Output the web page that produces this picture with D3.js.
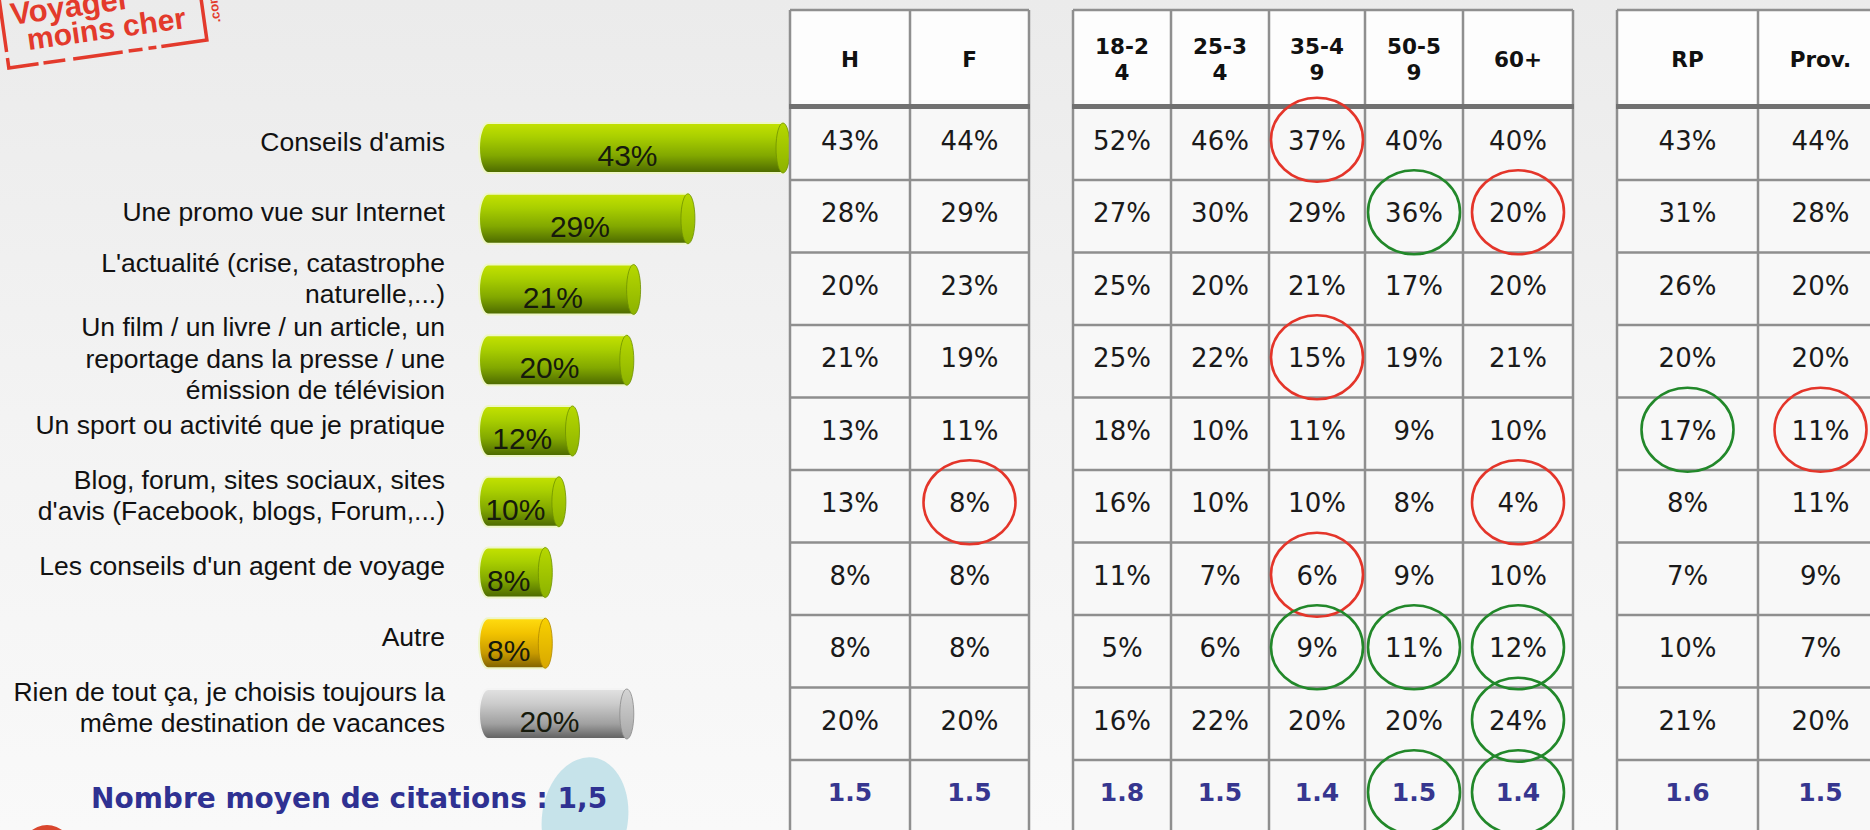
<!DOCTYPE html>
<html>
<head>
<meta charset="utf-8">
<script src="https://cdn.jsdelivr.net/npm/d3@7"></script>
<style>
  body { margin: 0; background: #f2f2f2; }
  svg { display: block; }
</style>
</head>
<body>
<svg id="chart" width="1870" height="830"></svg>
<script>
// ---- data ----
const categories = [
    "Conseils d'amis",
    "Une promo vue sur Internet",
    "L'actualité (crise, catastrophe\nnaturelle,...)",
    "Un film / un livre / un article, un\nreportage dans la presse / une\némission de télévision",
    "Un sport ou activité que je pratique",
    "Blog, forum, sites sociaux, sites\nd'avis (Facebook, blogs, Forum,...)",
    "Les conseils d'un agent de voyage",
    "Autre",
    "Rien de tout ça, je choisis toujours la\nmême destination de vacances"
]
const totals = [43, 29, 21, 20, 12, 10, 8, 8, 20]
const barKinds = ["main", "main", "main", "main", "main", "main", "main", "other", "none"]

const columns = ["H", "F", "18-24", "25-34", "35-49", "50-59", "60+", "RP", "Prov."]
const headerLines = [["H"], ["F"], ["18-2", "4"], ["25-3", "4"], ["35-4", "9"], ["50-5", "9"], ["60+"], ["RP"], ["Prov."]]
const tables = [["H", "F"], ["18-24", "25-34", "35-49", "50-59", "60+"], ["RP", "Prov."]]

const colH = [43, 28, 20, 21, 13, 13, 8, 8, 20]
const colF = [44, 29, 23, 19, 11, 8, 8, 8, 20]
const col1824 = [52, 27, 25, 25, 18, 16, 11, 5, 16]
const col2534 = [46, 30, 20, 22, 10, 10, 7, 6, 22]
const col3549 = [37, 29, 21, 15, 11, 10, 6, 9, 20]
const col5059 = [40, 36, 17, 19, 9, 8, 9, 11, 20]
const col60 = [40, 20, 20, 21, 10, 4, 10, 12, 24]
const colRP = [43, 31, 26, 20, 17, 8, 7, 10, 21]
const colProv = [44, 28, 20, 20, 11, 11, 9, 7, 20]
const colValues = [colH, colF, col1824, col2534, col3549, col5059, col60, colRP, colProv]
const averages = [1.5, 1.5, 1.8, 1.5, 1.4, 1.5, 1.4, 1.6, 1.5]

// circled cells: row index (9 = average row), column, low/high
const highlights = [
    { row: 0, col: "35-49", kind: "low" },
    { row: 1, col: "50-59", kind: "high" },
    { row: 1, col: "60+", kind: "low" },
    { row: 3, col: "35-49", kind: "low" },
    { row: 4, col: "RP", kind: "high" },
    { row: 4, col: "Prov.", kind: "low" },
    { row: 5, col: "F", kind: "low" },
    { row: 5, col: "60+", kind: "low" },
    { row: 6, col: "35-49", kind: "low" },
    { row: 7, col: "35-49", kind: "high" },
    { row: 7, col: "50-59", kind: "high" },
    { row: 7, col: "60+", kind: "high" },
    { row: 8, col: "60+", kind: "high" },
    { row: 9, col: "50-59", kind: "high" },
    { row: 9, col: "60+", kind: "high" }
]
const averageLabel = "Nombre moyen de citations : 1,5"

// ---- layout ----
width = 1870
height = 830
const tableBoxes = [
    { x0: 790, widths: [120, 119] },
    { x0: 1073, widths: [98, 98, 96, 98, 110] },
    { x0: 1617, widths: [141, 125] }
]
const headerTop = 10, headerBottom = 105
const labelFont = "'Liberation Sans', Arial, sans-serif"
const tableFont = "'DejaVu Sans', Verdana, sans-serif"

const svg = d3.select("#chart")
const defs = svg.append("defs")

function linear(id, stops) {
    const g = defs.append("linearGradient").attr("id", id)
        .attr("x1", 0).attr("y1", 0).attr("x2", 0).attr("y2", 1)
    stops.forEach(([o, c]) => g.append("stop").attr("offset", o).attr("stop-color", c))
}
linear("bg", [[0, "#ebebeb"], [0.5, "#f3f3f3"], [1, "#f9f9f9"]])
linear("g-main", [[0, "#c4e200"], [0.28, "#a9cf00"], [0.65, "#82a800"], [1, "#4b6800"]])
linear("g-other", [[0, "#ffdc10"], [0.3, "#f2c300"], [0.7, "#c79a00"], [1, "#7e6000"]])
linear("g-none", [[0, "#e2e2e2"], [0.3, "#cbcbcb"], [0.7, "#a0a0a0"], [1, "#5e5e5e"]])
linear("c-main", [[0, "#b6d800"], [1, "#8cb200"]])
linear("c-other", [[0, "#f8d000"], [1, "#d8a800"]])
linear("c-none", [[0, "#d4d4d4"], [1, "#a8a8a8"]])

svg.append("rect").attr("width", width).attr("height", height).attr("fill", "url(#bg)")

// ---- logo ----
const logo = svg.append("g").attr("transform", "translate(8,62) rotate(-8)")
    .attr("fill", "#e33a2c").attr("font-family", "'Liberation Sans', Arial, sans-serif").attr("font-weight", "bold")
logo.append("text").attr("x", 9).attr("y", -36).attr("font-size", 31).text("Voyager")
logo.append("text").attr("x", 22).attr("y", -9).attr("font-size", 30).text("moins cher")
logo.append("path").attr("d", "M0,-70 V6 H200 V-80")
    .attr("fill", "none").attr("stroke", "#e33a2c").attr("stroke-width", 3.5)
    .attr("stroke-dasharray", "60 6 40 5 22 8 50 6 14 6 8 5 200")
logo.append("text").attr("transform", "translate(216,-10) rotate(-90)")
    .attr("font-size", 13).text(".com")

// ---- bars ----
const y = d3.scalePoint().domain(categories).range([148, 714])
const x = d3.scaleLinear().domain([0, d3.max(totals)]).range([498, 790])
const barH = 50, capR = 7
const barLeft = x(0) - 19

const bars = svg.append("g")
    .selectAll("g")
    .data(categories.map((c, i) => ({ c, v: totals[i], kind: barKinds[i] })))
    .join("g")
    .attr("transform", d => `translate(0,${y(d.c)})`)

bars.append("path")
    .attr("d", d => {
        const xr = x(d.v) - capR, h = barH / 2
        return `M${barLeft + 9},${-h} H${xr} V${h} H${barLeft + 9} A9,${h} 0 0 1 ${barLeft + 9},${-h} Z`
    })
    .attr("fill", d => `url(#g-${d.kind})`)
    .attr("stroke", d => d.kind == "none" ? "#f4f4f4" : "#eef6c8")
    .attr("stroke-width", 2)

bars.append("ellipse")
    .attr("cx", d => x(d.v) - capR)
    .attr("rx", capR)
    .attr("ry", barH / 2)
    .attr("fill", d => `url(#c-${d.kind})`)
    .attr("stroke", d => d.kind == "none" ? "#8a8a8a" : d.kind == "other" ? "#b08800" : "#6f9000")
    .attr("stroke-width", 0.8)

bars.append("text")
    .attr("x", d => (barLeft + x(d.v) - 2 * capR) / 2)
    .attr("y", 18)
    .attr("text-anchor", "middle")
    .attr("font-family", labelFont)
    .attr("font-size", 30)
    .attr("fill", "#161a0c")
    .text(d => d.v + "%")

// ---- category labels ----
// each label block is centred a little above its bar, then neighbours are pushed apart
const lineH = 31.5, minGap = 33
const blocks = categories.map(c => {
    const lines = c.split("\n")
    const mid = y(c) - 7 + 9.5
    return { lines, first: mid - (lines.length - 1) / 2 * lineH, last: mid + (lines.length - 1) / 2 * lineH }
})
for (let i = 1; i < blocks.length; i++) {
    const gap = blocks[i].first - blocks[i - 1].last
    if (gap < minGap) {
        const push = (minGap - gap) / 2
        blocks[i - 1].first -= push; blocks[i - 1].last -= push
        blocks[i].first += push; blocks[i].last += push
    }
}

svg.append("g")
    .attr("font-family", labelFont)
    .attr("font-size", 26.5)
    .attr("fill", "#111")
    .attr("text-anchor", "end")
    .selectAll("text")
    .data(blocks)
    .join("text")
    .selectAll("tspan")
    .data(b => b.lines.map((line, i) => ({ line, y: b.first + i * lineH })))
    .join("tspan")
    .attr("x", 445)
    .attr("y", t => t.y)
    .text(t => t.line)

// ---- tables ----
const rowKeys = d3.range(10)
const yRow = d3.scaleBand().domain(rowKeys).range([107.5, 832.5])

const colX = {}
tables.forEach((cols, t) => {
    let x0 = tableBoxes[t].x0
    cols.forEach((c, i) => {
        colX[c] = { x0, x1: x0 + tableBoxes[t].widths[i] }
        x0 += tableBoxes[t].widths[i]
    })
})
const cx = c => (colX[c].x0 + colX[c].x1) / 2

const grid = svg.append("g")
tables.forEach(cols => {
    const left = colX[cols[0]].x0, right = colX[cols[cols.length - 1]].x1
    grid.append("rect").attr("x", left).attr("y", headerTop)
        .attr("width", right - left).attr("height", headerBottom - headerTop).attr("fill", "#fdfdfd")
    grid.append("rect").attr("x", left).attr("y", headerBottom)
        .attr("width", right - left).attr("height", height - headerBottom).attr("fill", "#f8f8f8")
    grid.append("g").selectAll("line")
        .data(rowKeys.slice(1))
        .join("line")
        .attr("x1", left).attr("x2", right)
        .attr("y1", r => yRow(r)).attr("y2", r => yRow(r))
        .attr("stroke", "#8f8f8f").attr("stroke-width", 2.5)
    grid.append("line").attr("x1", left).attr("x2", right)
        .attr("y1", headerTop).attr("y2", headerTop)
        .attr("stroke", "#8f8f8f").attr("stroke-width", 2.5)
    grid.append("g").selectAll("line")
        .data([left].concat(cols.map(c => colX[c].x1)))
        .join("line")
        .attr("x1", d => d).attr("x2", d => d)
        .attr("y1", headerTop).attr("y2", height)
        .attr("stroke", "#8f8f8f").attr("stroke-width", 2.5)
    grid.append("line").attr("x1", left - 1).attr("x2", right + 1)
        .attr("y1", headerBottom + 1.5).attr("y2", headerBottom + 1.5)
        .attr("stroke", "#717171").attr("stroke-width", 5)
})

// headers
svg.append("g")
    .attr("font-family", tableFont)
    .attr("font-weight", "bold")
    .attr("font-size", 21.5)
    .attr("fill", "#111")
    .attr("text-anchor", "middle")
    .selectAll("text")
    .data(columns.map((c, i) => ({ c, lines: headerLines[i] })))
    .join("text")
    .selectAll("tspan")
    .data(d => d.lines.map((line, i) => ({ c: d.c, line, i, n: d.lines.length })))
    .join("tspan")
    .attr("x", t => cx(t.c))
    .attr("y", t => (headerTop + headerBottom) / 2 + 9 + (t.i - (t.n - 1) / 2) * 26)
    .text(t => t.line)

// values
const cells = columns.flatMap((c, j) => colValues[j].map((v, r) => ({ c, r, text: v + "%" })))
svg.append("g")
    .attr("font-family", tableFont)
    .attr("font-size", 26)
    .attr("fill", "#1a1a1a")
    .attr("text-anchor", "middle")
    .selectAll("text")
    .data(cells)
    .join("text")
    .attr("x", d => cx(d.c))
    .attr("y", d => yRow(d.r) + yRow.bandwidth() / 2 + 6)
    .text(d => d.text)

svg.append("g")
    .attr("font-family", tableFont)
    .attr("font-weight", "bold")
    .attr("font-size", 25)
    .attr("fill", "#36368f")
    .attr("text-anchor", "middle")
    .selectAll("text")
    .data(columns.map((c, j) => ({ c, v: averages[j] })))
    .join("text")
    .attr("x", d => cx(d.c))
    .attr("y", yRow(9) + yRow.bandwidth() / 2 + 5)
    .text(d => d3.format(".1f")(d.v))

// circles
svg.append("g")
    .attr("fill", "none")
    .attr("stroke-width", 2.6)
    .selectAll("ellipse")
    .data(highlights)
    .join("ellipse")
    .attr("cx", d => cx(d.col))
    .attr("cy", d => yRow(d.row) + yRow.bandwidth() / 2 - 4)
    .attr("rx", 46)
    .attr("ry", 42)
    .attr("stroke", d => d.kind == "low" ? "#e4352a" : "#22882a")

// ---- footer ----
svg.append("ellipse")
    .attr("cx", 585).attr("cy", 818).attr("rx", 43).attr("ry", 61)
    .attr("transform", "rotate(8,585,818)")
    .attr("fill", "#c6e3ea")
svg.append("text")
    .attr("x", 91).attr("y", 808)
    .attr("font-family", tableFont)
    .attr("font-weight", "bold")
    .attr("font-size", 28)
    .attr("fill", "#2f3192")
    .text(averageLabel)
svg.append("circle").attr("cx", 47).attr("cy", 850).attr("r", 25).attr("fill", "#d9462e")
</script>
</body>
</html>
